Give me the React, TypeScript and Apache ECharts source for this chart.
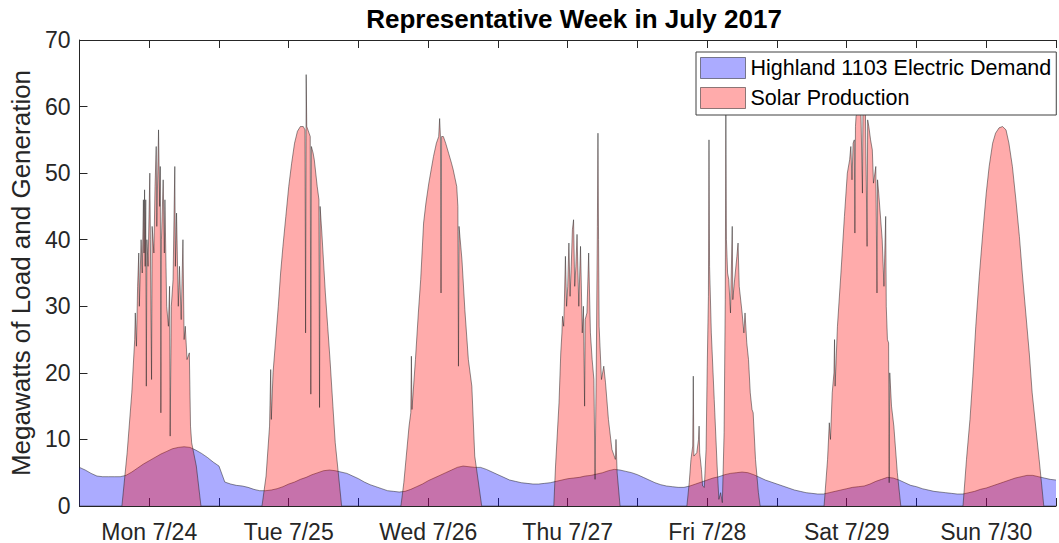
import React, { useEffect, useRef } from "react";
import * as echarts from "echarts";

const dayLabels = ["Mon 7/24", "Tue 7/25", "Wed 7/26", "Thu 7/27", "Fri 7/28", "Sat 7/29", "Sun 7/30"];
const seriesNames = ["Highland 1103 Electric Demand", "Solar Production"];
const titleText = "Representative Week in July 2017";
const yAxisTitle = "Megawatts of Load and Generation";

// Hourly demand (MW), hour 0..168
const demandMW = [
  5.8, 5.4, 4.9, 4.5, 4.4, 4.4, 4.4, 4.4, 4.6, 5.1, 5.7, 6.3, 6.8, 7.3, 7.8, 8.2, 8.6, 8.8, 8.9, 8.8, 8.4, 7.9, 7.3, 6.6,
  6.0, 3.6, 3.3, 3.1, 3.0, 2.8, 2.5, 2.3, 2.3, 2.4, 2.6, 2.9, 3.3, 3.6, 4.0, 4.3, 4.7, 5.0, 5.3, 5.4, 5.3, 5.1, 4.9, 4.5,
  4.1, 3.6, 3.2, 2.9, 2.6, 2.3, 2.2, 2.1, 2.2, 2.5, 2.9, 3.3, 3.8, 4.2, 4.6, 5.0, 5.4, 5.8, 6.0, 5.9, 5.8, 5.8, 5.5, 5.1,
  4.7, 4.3, 3.9, 3.7, 3.5, 3.4, 3.3, 3.3, 3.4, 3.5, 3.7, 3.9, 4.1, 4.2, 4.3, 4.5, 4.6, 4.8, 5.0, 5.3, 5.5, 5.4, 5.2, 5.0,
  4.7, 4.3, 3.9, 3.5, 3.2, 3.0, 2.9, 2.8, 2.8, 3.0, 3.3, 3.6, 3.9, 4.2, 4.4, 4.7, 4.9, 5.0, 5.1, 5.0, 4.7, 4.3, 3.9, 3.6,
  3.3, 3.0, 2.7, 2.4, 2.2, 2.0, 1.9, 1.8, 1.8, 2.0, 2.2, 2.4, 2.6, 2.8, 2.9, 3.0, 3.3, 3.7, 4.0, 4.3, 4.2, 3.9, 3.5, 3.1,
  2.9, 2.6, 2.4, 2.2, 2.1, 2.0, 1.9, 1.8, 1.8, 2.0, 2.2, 2.5, 2.7, 3.0, 3.3, 3.6, 3.9, 4.2, 4.4, 4.6, 4.6, 4.4, 4.2, 4.0,
  3.9,
];

// Solar production (hour, MW)
const solarMon: [number, number][] = [
  [7.3, 0], [8.2, 8], [9.0, 17], [9.5, 25], [9.6, 29], [9.8, 24], [10.0, 33], [10.2, 38], [10.3, 30], [10.6, 40],
  [10.8, 35], [11.0, 46], [11.1, 38], [11.2, 47.5], [11.3, 36], [11.4, 46], [11.5, 18], [11.6, 40], [11.8, 36],
  [12.1, 50], [12.2, 40], [12.4, 19], [12.5, 42], [12.8, 38], [13.0, 48], [13.2, 54], [13.3, 42], [13.6, 56.5],
  [13.8, 45], [13.9, 51], [14.0, 14], [14.1, 40], [14.4, 49], [14.6, 38], [14.7, 46], [15.0, 30], [15.3, 27],
  [15.5, 33], [15.6, 10.5], [15.8, 30], [16.1, 34], [16.4, 51], [16.5, 36], [16.7, 44], [17.0, 30], [17.2, 36],
  [17.5, 28], [17.8, 40], [18.0, 25], [18.2, 27], [18.5, 22], [18.9, 23], [19.1, 12], [19.3, 9.5], [20.1, 6], [20.9, 0],
];
const solarTue: [number, number][] = [
  [31.4, 0], [32.1, 4.5], [32.7, 12], [32.9, 20.5], [33.0, 13], [33.3, 20], [33.8, 25.5], [34.2, 30], [34.6, 35],
  [35.0, 39], [35.5, 43.5], [36.0, 48], [36.5, 51.5], [37.0, 54.5], [37.5, 56.3], [38.0, 57], [38.5, 57], [38.8, 56.5],
  [38.9, 26], [39.0, 64.8], [39.1, 57], [39.5, 56], [39.7, 55.5], [39.8, 16.8], [39.9, 54], [40.2, 53], [40.4, 52],
  [40.9, 48], [41.2, 46], [41.3, 14.8], [41.4, 45], [41.7, 41], [42.3, 32], [42.7, 27], [43.1, 22], [43.6, 15],
  [44.0, 9.5], [45.1, 0],
];
const solarWed: [number, number][] = [
  [55.3, 0], [55.8, 3.5], [56.7, 12], [57.0, 14], [57.1, 22.5], [57.2, 14.5], [57.8, 22], [58.3, 29], [58.7, 34],
  [59.2, 42.5], [59.6, 45.5], [60.1, 48.5], [60.5, 50.5], [60.9, 52.5], [61.4, 54.5], [61.8, 55.5], [61.96, 58.2],
  [62.1, 55.5], [62.2, 32], [62.3, 55.5], [62.6, 55.5], [63.0, 54.5], [63.5, 53], [64.0, 51.5], [64.3, 50.5],
  [64.9, 48], [65.1, 45], [65.2, 21], [65.3, 42], [65.8, 37], [66.3, 29.5], [66.9, 22], [67.5, 18], [68.0, 7.5], [69.2, 0],
];
const solarThu: [number, number][] = [
  [81.6, 0], [81.9, 6], [82.5, 15.5], [82.8, 23], [83.0, 26], [83.1, 28.5], [83.3, 27], [83.4, 30], [83.6, 37.5],
  [83.8, 30], [84.0, 33], [84.2, 39.5], [84.4, 31.5], [84.6, 36], [84.8, 41.5], [85.0, 43], [85.2, 33], [85.4, 36],
  [85.6, 40.8], [85.9, 30], [86.2, 39], [86.5, 26], [86.7, 30], [86.9, 15], [87.0, 28], [87.3, 29], [87.6, 38],
  [87.9, 26], [88.2, 22], [88.5, 19], [88.7, 4], [88.9, 20], [89.1, 42], [89.2, 56], [89.3, 40], [89.4, 27],
  [89.8, 19], [90.2, 21], [90.5, 18.5], [91.0, 13], [91.6, 8.5], [92.2, 7], [92.3, 10], [92.5, 5], [93.0, 0],
];
const solarFri: [number, number][] = [
  [104.5, 0], [104.9, 3.5], [105.2, 7], [105.5, 9], [105.6, 19.5], [105.7, 7.5], [106.2, 8], [106.5, 10], [106.6, 12],
  [106.7, 8], [107.0, 5.5], [107.2, 3], [107.5, 2.8], [107.8, 8.5], [108.0, 21], [108.2, 31.5], [108.3, 55],
  [108.4, 36], [108.7, 26], [109.0, 20], [109.2, 16], [109.3, 14], [109.7, 6], [110.0, 1], [110.3, 2], [110.6, 0.5],
  [110.9, 11], [111.1, 31], [111.2, 59], [111.3, 40], [111.5, 35], [111.7, 34], [112.0, 29], [112.3, 42], [112.4, 31],
  [112.6, 33], [113.1, 37.5], [113.3, 39.5], [113.5, 33], [114.0, 29], [114.3, 26], [114.5, 29], [114.8, 24.5],
  [115.1, 22], [115.4, 17], [115.7, 14.5], [115.9, 14], [116.3, 7], [116.8, 2], [117.1, 0],
];
const solarSat: [number, number][] = [
  [128.1, 0], [128.7, 7], [129.0, 12.5], [129.2, 10], [129.5, 17], [129.8, 20], [129.9, 25], [130.0, 18], [130.4, 27],
  [131.0, 35], [131.6, 43.5], [132.1, 50], [132.5, 52], [132.7, 54], [132.9, 49], [133.1, 54.5], [133.3, 55],
  [133.4, 41], [133.5, 57], [133.6, 58.5], [134.0, 60], [134.4, 61], [134.7, 47], [134.8, 61], [135.2, 60],
  [135.5, 39], [135.6, 58], [135.8, 57], [136.1, 55], [136.4, 53.5], [136.6, 48.5], [137.0, 51], [137.2, 32],
  [137.3, 49], [137.5, 47], [138.1, 40], [138.4, 33], [138.7, 43.5], [138.8, 30], [139.0, 25], [139.2, 24.5],
  [139.3, 3.5], [139.4, 20], [139.7, 15], [140.1, 12], [140.7, 5], [141.3, 0],
];
const solarSun: [number, number][] = [
  [152.0, 0], [152.6, 7], [153.2, 13], [153.7, 19.5], [154.2, 27], [154.8, 34.5], [155.4, 41], [156.0, 47],
  [156.5, 51], [157.1, 54.5], [157.6, 56], [158.2, 56.8], [158.8, 57], [159.4, 56.5], [159.9, 54.5], [160.5, 51],
  [161.1, 46], [161.7, 40.5], [162.2, 35], [162.8, 29], [163.4, 23], [163.9, 17], [164.5, 12], [165.1, 7], [165.9, 0],
];

const FONT = '"Liberation Sans", Arial, Helvetica, sans-serif';
const AXIS_COLOR = "#262626";
const BLUE = "rgba(0,0,255,0.33)";
const RED = "rgba(255,0,0,0.33)";
const EDGE = "rgba(30,30,30,0.7)";

export default function App() {
  const ref = useRef<HTMLDivElement>(null);

  useEffect(() => {
    document.body.style.margin = "0";
    if (!ref.current) return;
    const chart = echarts.init(ref.current, undefined, { renderer: "svg" });

    const demandData = demandMW.map((v, i) => [i, v]);
    const solarData: [number, number][] = [
      [0, 0],
      ...solarMon, ...solarTue, ...solarWed, ...solarThu, ...solarFri, ...solarSat, ...solarSun,
      [168, 0],
    ];

    const xCommon = {
      type: "value" as const,
      min: 0,
      max: 168,
      interval: 12,
      gridIndex: 0,
      splitLine: { show: false },
      axisLine: { show: true, onZero: false, lineStyle: { color: AXIS_COLOR, width: 1 } },
      axisTick: { show: true, inside: true, length: 8, lineStyle: { color: AXIS_COLOR, width: 1 } },
    };

    chart.setOption({
      animation: false,
      backgroundColor: "#ffffff",
      textStyle: { fontFamily: FONT },
      grid: { left: 77, top: 40, width: 986.5, height: 467, containLabel: false },
      graphic: [
        {
          type: "text",
          x: 574,
          y: 19,
          style: {
            text: titleText,
            font: `bold 26px ${FONT}`,
            fill: "#000000",
            textAlign: "center",
            textVerticalAlign: "middle",
            align: "center",
            verticalAlign: "middle",
          },
        },
      ],
      legend: {
        orient: "vertical",
        left: 696,
        top: 52,
        padding: [5, 5, 6, 4],
        itemWidth: 45,
        itemHeight: 21,
        itemGap: 8,
        selectedMode: false,
        backgroundColor: "#ffffff",
        borderColor: "#404040",
        borderWidth: 1,
        borderRadius: 0,
        textStyle: { fontSize: 21.5, color: "#000000", fontFamily: FONT },
        data: [
          { name: seriesNames[0], icon: "rect", itemStyle: { color: BLUE, borderColor: "rgba(0,0,0,0.45)", borderWidth: 1 } },
          { name: seriesNames[1], icon: "rect", itemStyle: { color: RED, borderColor: "rgba(0,0,0,0.45)", borderWidth: 1 } },
        ],
      },
      xAxis: [
        {
          ...xCommon,
          position: "bottom",
          axisLabel: {
            show: true,
            fontSize: 23,
            color: AXIS_COLOR,
            fontFamily: FONT,
            margin: 14,
            formatter: (v: number) => (v % 24 === 12 ? dayLabels[(v - 12) / 24] ?? "" : ""),
          },
        },
        {
          ...xCommon,
          position: "top",
          axisLabel: { show: false },
        },
      ],
      yAxis: {
        type: "value",
        min: 0,
        max: 70,
        interval: 10,
        splitLine: { show: false },
        axisLine: { show: true, lineStyle: { color: AXIS_COLOR, width: 1 } },
        axisTick: { show: true, inside: true, length: 8, lineStyle: { color: AXIS_COLOR, width: 1 } },
        axisLabel: { fontSize: 23, color: AXIS_COLOR, fontFamily: FONT, margin: 9 },
        name: yAxisTitle,
        nameLocation: "middle",
        nameRotate: 90,
        nameGap: 40,
        nameTextStyle: { fontSize: 26, color: AXIS_COLOR, fontFamily: FONT },
      },
      series: [
        {
          name: seriesNames[0],
          type: "line",
          xAxisIndex: 0,
          data: demandData,
          symbol: "none",
          showSymbol: false,
          lineStyle: { color: EDGE, width: 0.7 },
          itemStyle: { color: BLUE },
          areaStyle: { color: BLUE, opacity: 1, origin: "start" },
          z: 2,
        },
        {
          name: seriesNames[1],
          type: "line",
          xAxisIndex: 0,
          data: solarData,
          symbol: "none",
          showSymbol: false,
          lineStyle: { color: EDGE, width: 0.7 },
          itemStyle: { color: RED },
          areaStyle: { color: RED, opacity: 1, origin: "start" },
          z: 3,
        },
      ],
    });

    return () => chart.dispose();
  }, []);

  return <div ref={ref} style={{ width: 1059, height: 543 }} />;
}
